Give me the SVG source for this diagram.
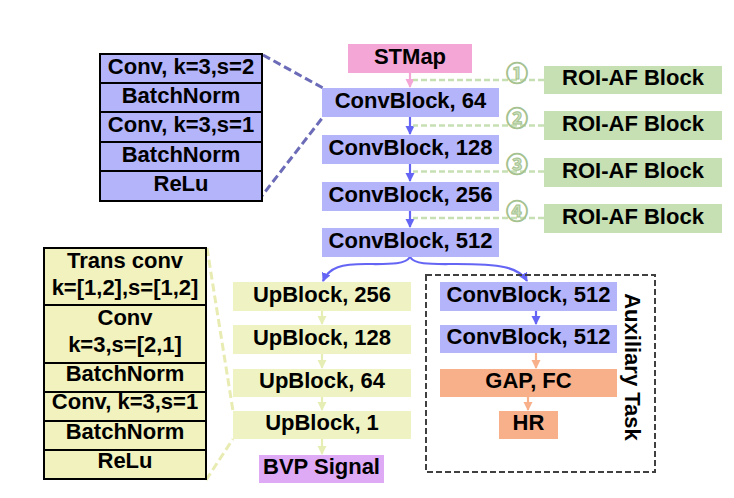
<svg xmlns="http://www.w3.org/2000/svg" width="734" height="498" viewBox="0 0 734 498">
<style>
text{font-family:"Liberation Sans",Arial,sans-serif;font-weight:bold;font-size:22px;text-anchor:middle;fill:#000}
.pu{fill:#b4b4fa}
.gr{fill:#c6e0b4}
.ye{fill:#eff3c3}
.ys{fill:#f1f2bd}
.or{fill:#f7b08a}
.stk{stroke:#000;stroke-width:2}
.num{font-family:"Noto Sans CJK SC","DejaVu Sans",sans-serif;font-weight:bold;font-size:22px;fill:#cfe3bf;stroke:#a5c290;stroke-width:1}
.gd{stroke:#c6e0b4;stroke-width:2.5;stroke-dasharray:6 3;fill:none}
.bl{stroke:#6565f5;stroke-width:2.2;fill:none}
</style>
<defs>
<marker id="ab" markerUnits="userSpaceOnUse" markerWidth="10" markerHeight="10" refX="8" refY="4.5" orient="auto"><path d="M0,0 L9,4.5 L0,9 Z" fill="#6565f5"/></marker>
<marker id="ap" markerUnits="userSpaceOnUse" markerWidth="10" markerHeight="10" refX="8" refY="4.5" orient="auto"><path d="M0,0 L9,4.5 L0,9 Z" fill="#f4a6d6"/></marker>
<marker id="ay" markerUnits="userSpaceOnUse" markerWidth="10" markerHeight="10" refX="8" refY="4.5" orient="auto"><path d="M0,0 L9,4.5 L0,9 Z" fill="#e6edb5"/></marker>
<marker id="ao" markerUnits="userSpaceOnUse" markerWidth="10" markerHeight="10" refX="8" refY="4.5" orient="auto"><path d="M0,0 L9,4.5 L0,9 Z" fill="#f7b08a"/></marker>
</defs>

<g id="connectors">
<line x1="263" y1="55" x2="323" y2="88" stroke="#6b6bb8" stroke-width="3" stroke-dasharray="8 4"/>
<line x1="258" y1="201" x2="323" y2="117" stroke="#6b6bb8" stroke-width="3" stroke-dasharray="8 4"/>
<line x1="207" y1="248" x2="233" y2="411" stroke="#e9ecb2" stroke-width="3" stroke-dasharray="8 4"/>
<line x1="206" y1="480" x2="233" y2="439" stroke="#e9ecb2" stroke-width="3" stroke-dasharray="8 4"/>
<line x1="410" y1="73" x2="410" y2="87" stroke="#f4a6d6" stroke-width="2.2" marker-end="url(#ap)"/>
<line class="bl" x1="410" y1="117" x2="410" y2="134" marker-end="url(#ab)"/>
<line class="bl" x1="410" y1="164" x2="410" y2="181" marker-end="url(#ab)"/>
<line class="bl" x1="410" y1="211" x2="410" y2="227" marker-end="url(#ab)"/>
<line class="gd" x1="544" y1="80" x2="413" y2="80"/>
<line class="gd" x1="544" y1="125.5" x2="413" y2="125.5"/>
<line class="gd" x1="544" y1="171.5" x2="413" y2="171.5"/>
<line class="gd" x1="544" y1="218" x2="413" y2="218"/>
<path class="bl" d="M410,257 C405,265 388,264 366,264 C342,264 329,267 323,281" marker-end="url(#ab)"/>
<path class="bl" d="M410,257 C415,265 432,264 456,264 C500,264 519,267 527,281" marker-end="url(#ab)"/>
<line x1="322" y1="311" x2="322" y2="324" stroke="#e6edb5" stroke-width="2.2" marker-end="url(#ay)"/>
<line x1="322" y1="354" x2="322" y2="368" stroke="#e6edb5" stroke-width="2.2" marker-end="url(#ay)"/>
<line x1="322" y1="397" x2="322" y2="410" stroke="#e6edb5" stroke-width="2.2" marker-end="url(#ay)"/>
<line x1="322" y1="439" x2="322" y2="454" stroke="#e6edb5" stroke-width="2.2" marker-end="url(#ay)"/>
<line class="bl" x1="536" y1="311" x2="536" y2="324" marker-end="url(#ab)"/>
<line x1="536" y1="353" x2="536" y2="368" stroke="#f7b08a" stroke-width="2.2" marker-end="url(#ao)"/>
<line x1="528" y1="397" x2="528" y2="410" stroke="#f7b08a" stroke-width="2.2" marker-end="url(#ao)"/>
</g>

<g id="conv-detail">
<rect class="pu stk" x="100" y="54" width="162" height="147"/>
<line class="stk" x1="100" y1="83" x2="262" y2="83"/>
<line class="stk" x1="100" y1="112" x2="262" y2="112"/>
<line class="stk" x1="100" y1="142" x2="262" y2="142"/>
<line class="stk" x1="100" y1="171" x2="262" y2="171"/>
<text x="181" y="73.5">Conv, k=3,s=2</text>
<text x="181" y="102.5">BatchNorm</text>
<text x="181" y="131.5">Conv, k=3,s=1</text>
<text x="181" y="161.5">BatchNorm</text>
<text x="181" y="190.5">ReLu</text>
</g>

<g id="up-detail">
<rect class="ys stk" x="44" y="248" width="162" height="231"/>
<line class="stk" x1="44" y1="305" x2="206" y2="305"/>
<line class="stk" x1="44" y1="363" x2="206" y2="363"/>
<line class="stk" x1="44" y1="392" x2="206" y2="392"/>
<line class="stk" x1="44" y1="421" x2="206" y2="421"/>
<line class="stk" x1="44" y1="450" x2="206" y2="450"/>
<text x="125" y="268">Trans conv</text>
<text x="125" y="295">k=[1,2],s=[1,2]</text>
<text x="125" y="325">Conv</text>
<text x="125" y="352">k=3,s=[2,1]</text>
<text x="125" y="381">BatchNorm</text>
<text x="125" y="409">Conv, k=3,s=1</text>
<text x="125" y="439">BatchNorm</text>
<text x="125" y="468">ReLu</text>
</g>

<g id="stmap"><rect x="348" y="44" width="124" height="29" fill="#f4a6d6"/><text x="410" y="63.5">STMap</text></g>
<g id="conv64"><rect class="pu" x="322" y="88" width="177" height="29"/><text x="410.5" y="107.5">ConvBlock, 64</text></g>
<g id="conv128"><rect class="pu" x="322" y="135" width="177" height="29"/><text x="410.5" y="154.5">ConvBlock, 128</text></g>
<g id="conv256"><rect class="pu" x="322" y="182" width="177" height="29"/><text x="410.5" y="201.5">ConvBlock, 256</text></g>
<g id="conv512"><rect class="pu" x="322" y="228" width="177" height="29"/><text x="410.5" y="247.5">ConvBlock, 512</text></g>

<g id="roi1"><rect class="gr" x="544" y="66" width="178" height="28"/><text x="633" y="85">ROI-AF Block</text><text class="num" x="517" y="80.5">①</text></g>
<g id="roi2"><rect class="gr" x="544" y="111" width="178" height="29"/><text x="633" y="130.5">ROI-AF Block</text><text class="num" x="517" y="126">②</text></g>
<g id="roi3"><rect class="gr" x="544" y="158" width="178" height="29"/><text x="633" y="177.5">ROI-AF Block</text><text class="num" x="517" y="172">③</text></g>
<g id="roi4"><rect class="gr" x="544" y="204" width="178" height="29"/><text x="633" y="223.5">ROI-AF Block</text><text class="num" x="517" y="218.5">④</text></g>

<g id="up256"><rect class="ye" x="233" y="282" width="178" height="29"/><text x="322" y="301.5">UpBlock, 256</text></g>
<g id="up128"><rect class="ye" x="233" y="325" width="178" height="29"/><text x="322" y="344.5">UpBlock, 128</text></g>
<g id="up64"><rect class="ye" x="233" y="369" width="178" height="28"/><text x="322" y="387.5">UpBlock, 64</text></g>
<g id="up1"><rect class="ye" x="233" y="411" width="178" height="28"/><text x="322" y="429.5">UpBlock, 1</text></g>
<g id="bvp"><rect x="259" y="455" width="125" height="28" fill="#deaaf5"/><text x="321.5" y="473.5">BVP Signal</text></g>

<g id="aux">
<rect x="426" y="275" width="229" height="197" fill="none" stroke="#404040" stroke-width="2" stroke-dasharray="6 3"/>
<text transform="rotate(90 632 367)" x="632" y="374.5">Auxiliary Task</text>
</g>
<g id="aux-conv1"><rect class="pu" x="440" y="282" width="177" height="29"/><text x="528.5" y="301.5">ConvBlock, 512</text></g>
<g id="aux-conv2"><rect class="pu" x="440" y="325" width="177" height="28"/><text x="528.5" y="343.5">ConvBlock, 512</text></g>
<g id="gapfc"><rect class="or" x="440" y="369" width="177" height="28"/><text x="528.5" y="387.5">GAP, FC</text></g>
<g id="hr"><rect class="or" x="499" y="411" width="59" height="28"/><text x="528.5" y="429.5">HR</text></g>
</svg>
